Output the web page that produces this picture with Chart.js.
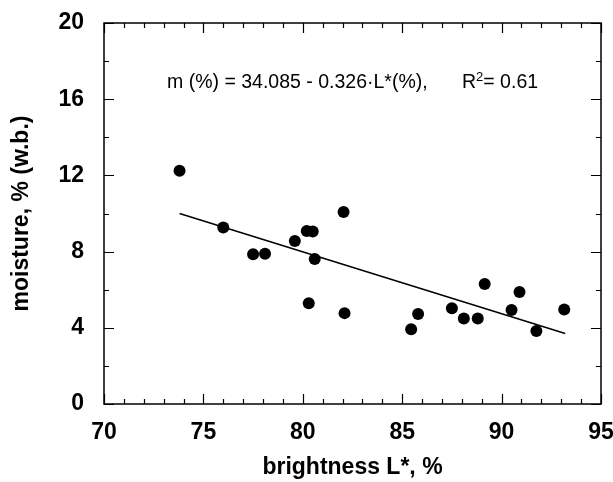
<!DOCTYPE html>
<html>
<head>
<meta charset="utf-8">
<script src="https://cdn.jsdelivr.net/npm/chart.js@4.4.0/dist/chart.umd.min.js"></script>
<style>
  html, body { margin: 0; padding: 0; background: #fff; }
  #wrap { width: 613px; height: 482px; }
</style>
</head>
<body>
<div id="wrap"><canvas id="c" width="613" height="482"></canvas></div>
<script>
// brightness L* (%) of each sample
const brightness = [73.8, 76.0, 77.5, 78.1, 79.6, 80.2, 80.5, 80.6, 80.3, 82.05, 82.1, 85.45, 85.8, 87.5, 88.1, 88.8, 89.15, 90.5, 90.9, 91.75, 93.15];
// moisture % (w.b.) of each sample
const moisture   = [12.25, 9.27, 7.86, 7.89, 8.56, 9.08, 9.05, 7.61, 5.29, 10.08, 4.77, 3.93, 4.73, 5.03, 4.49, 4.49, 6.30, 4.94, 5.88, 3.83, 4.96];
// regression line endpoints
const fitX = [73.8, 93.2];
const fitY = [10.0, 3.7];
// tick labels
const xTickLabels = [70, 75, 80, 85, 90, 95];
const yTickLabels = [0, 4, 8, 12, 16, 20];
const formulaText = "m (%) = 34.085 - 0.326\u00b7L*(%),";
const r2Label = "R";
const r2Sup = "2";
const r2Value = "= 0.61";

const FONT = "'Liberation Sans', Arial, Helvetica, sans-serif";

const boxTicks = {
  id: 'boxTicks',
  afterDraw(chart) {
    const ctx = chart.ctx;
    const a = chart.chartArea;
    const xs = chart.scales.x, ys = chart.scales.y;
    ctx.save();
    ctx.strokeStyle = '#000';
    ctx.lineWidth = 1.5;
    ctx.strokeRect(a.left, a.top, a.right - a.left, a.bottom - a.top);
    ctx.lineWidth = 1.2;
    ctx.beginPath();
    for (let v = xs.min; v <= xs.max; v += 1) {
      const px = Math.round(xs.getPixelForValue(v)) + 0.5;
      const len = (v % 5 === 0) ? 10 : 5;
      ctx.moveTo(px, a.bottom); ctx.lineTo(px, a.bottom - len);
      ctx.moveTo(px, a.top); ctx.lineTo(px, a.top + len);
    }
    for (let v = ys.min; v <= ys.max; v += 2) {
      const py = Math.round(ys.getPixelForValue(v)) + 0.5;
      const len = (v % 4 === 0) ? 10 : 5;
      ctx.moveTo(a.left, py); ctx.lineTo(a.left + len, py);
      ctx.moveTo(a.right, py); ctx.lineTo(a.right - len, py);
    }
    ctx.stroke();

    // formula annotation
    ctx.fillStyle = '#000';
    ctx.textBaseline = 'middle';
    ctx.textAlign = 'left';
    ctx.font = '19.5px ' + FONT;
    ctx.fillText(formulaText, 167, 83);
    let x = 462;
    ctx.fillText(r2Label, x, 83);
    x += ctx.measureText(r2Label).width;
    ctx.font = '13px ' + FONT;
    ctx.fillText(r2Sup, x, 77);
    x += ctx.measureText(r2Sup).width;
    ctx.font = '19.5px ' + FONT;
    ctx.fillText(r2Value, x, 83);
    ctx.restore();
  }
};

new Chart(document.getElementById('c'), {
  type: 'scatter',
  data: {
    datasets: [
      {
        data: brightness.map((b, i) => ({ x: b, y: moisture[i] })),
        backgroundColor: '#000',
        borderWidth: 0,
        pointRadius: 6,
        pointHoverRadius: 6
      },
      {
        data: fitX.map((b, i) => ({ x: b, y: fitY[i] })),
        showLine: true,
        borderColor: '#000',
        borderWidth: 1.5,
        pointRadius: 0,
        fill: false
      }
    ]
  },
  options: {
    responsive: false,
    animation: false,
    events: [],
    layout: { padding: { top: 23, right: 12, left: 0, bottom: 0 } },
    plugins: { legend: { display: false }, tooltip: { enabled: false } },
    scales: {
      x: {
        type: 'linear',
        min: 70, max: 95,
        afterFit(s) { s.height = 78; s.paddingLeft = 0; s.paddingRight = 0; },
        afterBuildTicks(s) { s.ticks = xTickLabels.map(v => ({ value: v })); },
        grid: { display: false, drawTicks: false },
        border: { display: false },
        ticks: { color: '#000', padding: 15, font: { family: FONT, size: 23, weight: 'bold' } },
        title: { display: true, text: 'brightness L*, %', color: '#000', padding: { top: 6, bottom: 1 }, font: { family: FONT, size: 23, weight: 'bold' } }
      },
      y: {
        type: 'linear',
        min: 0, max: 20,
        afterFit(s) { s.width = 104; s.paddingTop = 0; s.paddingBottom = 0; },
        afterBuildTicks(s) { s.ticks = yTickLabels.map(v => ({ value: v })); },
        grid: { display: false, drawTicks: false },
        border: { display: false },
        ticks: { color: '#000', padding: 20, font: { family: FONT, size: 23, weight: 'bold' } },
        title: { display: true, text: 'moisture, % (w.b.)', color: '#000', padding: { top: 8, bottom: 0 }, font: { family: FONT, size: 23, weight: 'bold' } }
      }
    }
  },
  plugins: [boxTicks]
});
</script>
</body>
</html>
